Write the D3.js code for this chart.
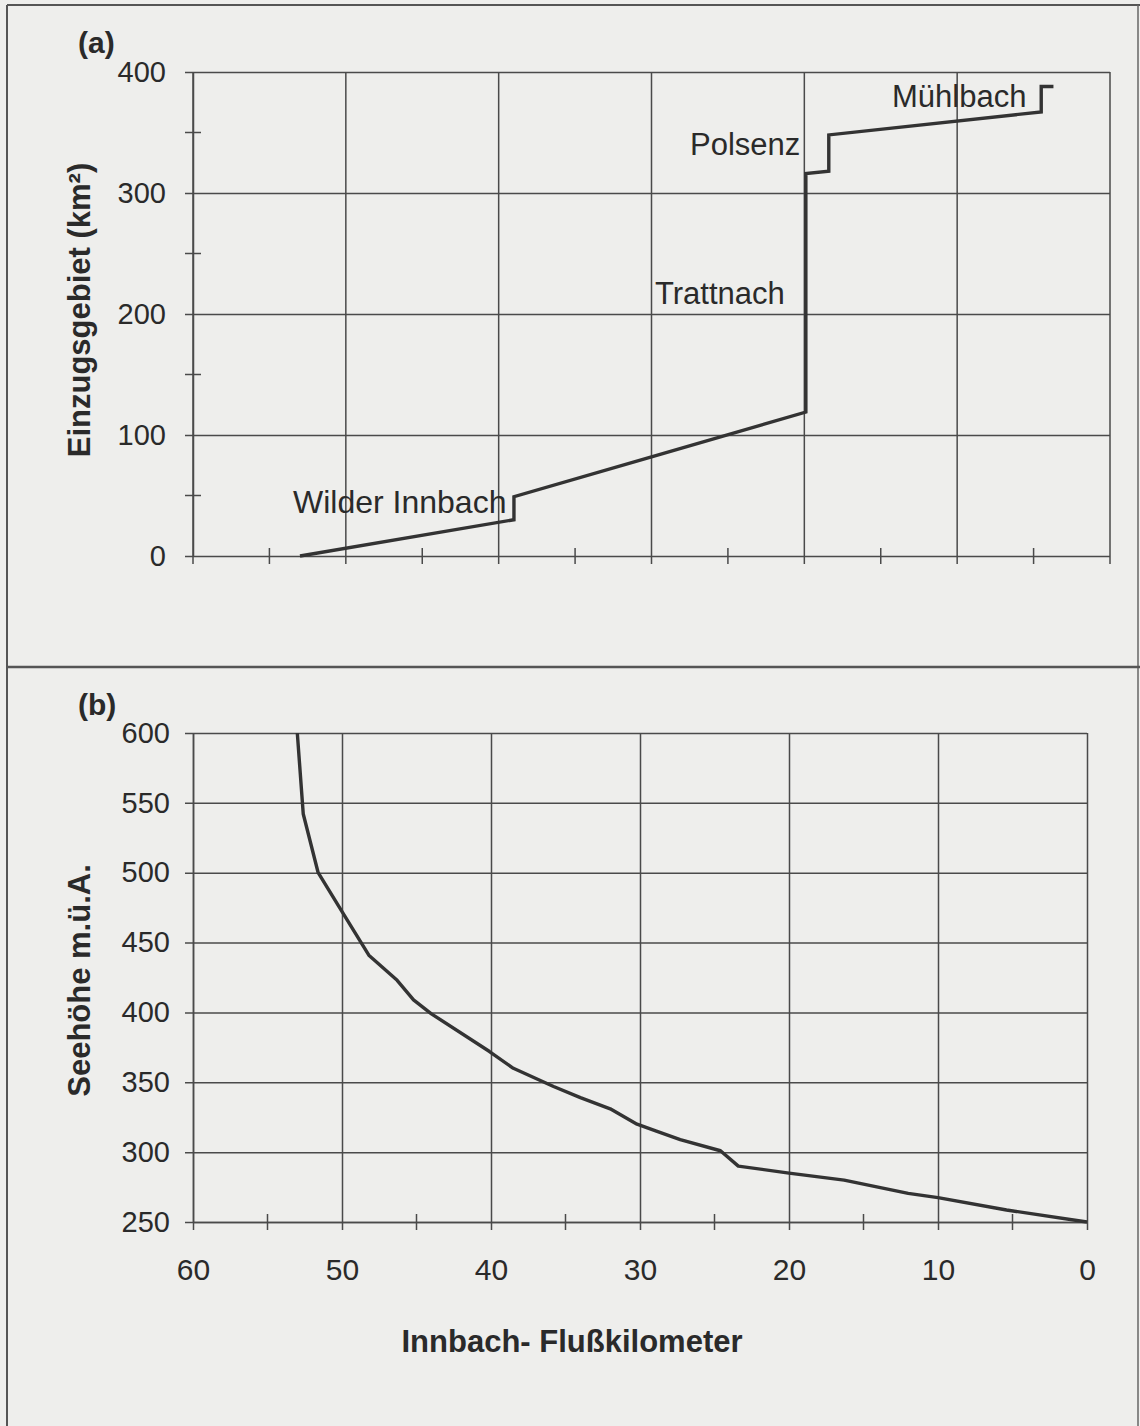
<!DOCTYPE html>
<html>
<head>
<meta charset="utf-8">
<script src="https://cdn.jsdelivr.net/npm/d3@7"></script>
<style>
  html, body { margin: 0; padding: 0; background: #eeeeec; }
  svg { display: block; }
  text { font-family: "Liberation Sans", Arial, sans-serif; fill: #2a2a2a; }
</style>
</head>
<body>
<script>
// Innbach: catchment area (a) and longitudinal profile (b) along the river kilometre

// (a) catchment area [river km, km²], with the tributary confluences as steps
const areaKm   = [53.0, 39.0, 39.0, 30.0, 19.9, 19.9, 18.4, 18.4, 4.5, 4.5, 3.7];
const areaVal  = [0,    30,   49,   82,   119,  316,  318,  348,  367, 388, 388];
const tributaries = ["Wilder Innbach", "Trattnach", "Polsenz", "Mühlbach"];

// (b) elevation [river km, m a.s.l.]
const elevKm  = [53.0, 52.6, 51.6, 50.1, 48.2, 46.3, 45.2, 44.0, 40.1, 38.5, 35.8, 34.0, 32.0, 30.2, 28.9, 27.3, 24.6, 23.4, 20.0, 16.3, 12.0, 10.0, 5.4, 0.0];
const elevVal = [600,  542,  500,  474,  441,  423,  409,  399,  372,  360,  347,  339,  331,  320,  315,  309,  301,  290,  285,  280,  270.5, 267.4, 258.6, 250];

// tick values
const kmMajor   = [60, 50, 40, 30, 20, 10, 0];
const kmMinor   = [55, 45, 35, 25, 15, 5];
const areaMajor = [0, 100, 200, 300, 400];
const areaMinor = [50, 150, 250, 350];
const elevMajor = [250, 300, 350, 400, 450, 500, 550, 600];

const W = 1140, H = 1426;
const ink = "#2f2f2f", grid = "#4a4a4a";
const tickFont = '"Liberation Sans", Arial, sans-serif';

const svg = d3.select("body").append("svg").attr("width", W).attr("height", H);

// page frame and panel separator
svg.append("line").attr("x1", 7).attr("x2", W).attr("y1", 5).attr("y2", 5)
  .attr("stroke", "#555").attr("stroke-width", 2);
svg.append("line").attr("x1", 7).attr("x2", 7).attr("y1", 5).attr("y2", H)
  .attr("stroke", "#555").attr("stroke-width", 2);
svg.append("line").attr("x1", 1138).attr("x2", 1138).attr("y1", 5).attr("y2", H)
  .attr("stroke", "#666").attr("stroke-width", 1.5);
svg.append("line").attr("x1", 7).attr("x2", W).attr("y1", 667).attr("y2", 667)
  .attr("stroke", "#555").attr("stroke-width", 2.5);

// ---------- panel (a) ----------
const xa = d3.scaleLinear().domain([60, 0]).range([193, 1110]);
const ya = d3.scaleLinear().domain([0, 400]).range([556, 72]);

const ga = svg.append("g");

// vertical grid lines at the major km positions
ga.append("g").selectAll("line").data(kmMajor).join("line")
  .attr("x1", d => xa(d)).attr("x2", d => xa(d))
  .attr("y1", ya(400)).attr("y2", ya(0) + 8)
  .attr("stroke", grid).attr("stroke-width", 1.5);
// minor km ticks crossing the base line
ga.append("g").selectAll("line").data(kmMinor).join("line")
  .attr("x1", d => xa(d)).attr("x2", d => xa(d))
  .attr("y1", ya(0) - 8).attr("y2", ya(0) + 8)
  .attr("stroke", grid).attr("stroke-width", 1.5);

// y axis with full-width grid lines
const axA = ga.append("g").attr("transform", `translate(${xa(60)},0)`)
  .call(d3.axisLeft(ya).tickValues(areaMajor).tickSize(-(xa(0) - xa(60))).tickSizeOuter(0).tickPadding(27));
axA.select(".domain").attr("stroke", grid).attr("stroke-width", 1.5);
axA.selectAll(".tick line").attr("x1", -8).attr("stroke", grid).attr("stroke-width", 1.5);
axA.selectAll(".tick text").attr("font-size", 29).attr("fill", ink).style("font-family", tickFont);
// minor area ticks
ga.append("g").selectAll("line").data(areaMinor).join("line")
  .attr("x1", xa(60) - 8).attr("x2", xa(60) + 8)
  .attr("y1", d => ya(d)).attr("y2", d => ya(d))
  .attr("stroke", grid).attr("stroke-width", 1.5);

// catchment line
const areaPts = areaKm.map((k, i) => [k, areaVal[i]]);
ga.append("path").datum(areaPts)
  .attr("fill", "none").attr("stroke", "#333").attr("stroke-width", 3.4)
  .attr("stroke-linejoin", "miter")
  .attr("d", d3.line().x(d => xa(d[0])).y(d => ya(d[1])));

// tributary labels
const tribPos = [
  { name: tributaries[0], x: 293, y: 513, size: 32 },
  { name: tributaries[1], x: 655, y: 304, size: 31 },
  { name: tributaries[2], x: 690, y: 155, size: 31 },
  { name: tributaries[3], x: 892, y: 107, size: 31 }
];
ga.append("g").selectAll("text").data(tribPos).join("text")
  .attr("x", d => d.x).attr("y", d => d.y)
  .attr("font-size", d => d.size).attr("fill", ink)
  .text(d => d.name);

svg.append("text").attr("x", 78).attr("y", 53)
  .attr("font-size", 30).attr("font-weight", "bold").attr("fill", ink).text("(a)");

svg.append("text")
  .attr("transform", `translate(90,${(ya(0) + ya(400)) / 2 - 4}) rotate(-90)`)
  .attr("text-anchor", "middle").attr("font-size", 31).attr("font-weight", "bold").attr("fill", ink)
  .text("Einzugsgebiet (km²)");

// ---------- panel (b) ----------
const xb = d3.scaleLinear().domain([60, 0]).range([193, 1087]);
const yb = d3.scaleLinear().domain([250, 600]).range([1222, 733]);

const gb = svg.append("g");

// x axis with full-height grid lines
const axBx = gb.append("g").attr("transform", `translate(0,${yb(250)})`)
  .call(d3.axisBottom(xb).tickValues(kmMajor).tickSize(-(yb(250) - yb(600))).tickSizeOuter(0).tickPadding(37));
axBx.select(".domain").attr("stroke", grid).attr("stroke-width", 1.5);
axBx.selectAll(".tick line").attr("y1", 8).attr("stroke", grid).attr("stroke-width", 1.5);
axBx.selectAll(".tick text").attr("font-size", 30).attr("fill", ink).style("font-family", tickFont);
gb.append("g").selectAll("line").data(kmMinor).join("line")
  .attr("x1", d => xb(d)).attr("x2", d => xb(d))
  .attr("y1", yb(250) - 8).attr("y2", yb(250) + 8)
  .attr("stroke", grid).attr("stroke-width", 1.5);

// y axis with full-width grid lines
const axBy = gb.append("g").attr("transform", `translate(${xb(60)},0)`)
  .call(d3.axisLeft(yb).tickValues(elevMajor).tickSize(-(xb(0) - xb(60))).tickSizeOuter(0).tickPadding(23));
axBy.select(".domain").attr("stroke", grid).attr("stroke-width", 1.5);
axBy.selectAll(".tick line").attr("x1", -8).attr("stroke", grid).attr("stroke-width", 1.5);
axBy.selectAll(".tick text").attr("font-size", 29).attr("fill", ink).style("font-family", tickFont);

// elevation profile
const elevPts = elevKm.map((k, i) => [k, elevVal[i]]);
gb.append("path").datum(elevPts)
  .attr("fill", "none").attr("stroke", "#333").attr("stroke-width", 3.4)
  .attr("stroke-linejoin", "round")
  .attr("d", d3.line().x(d => xb(d[0])).y(d => yb(d[1])));

svg.append("text").attr("x", 78).attr("y", 715)
  .attr("font-size", 30).attr("font-weight", "bold").attr("fill", ink).text("(b)");

svg.append("text")
  .attr("transform", `translate(90,${(yb(250) + yb(600)) / 2 + 3}) rotate(-90)`)
  .attr("text-anchor", "middle").attr("font-size", 31).attr("font-weight", "bold").attr("fill", ink)
  .text("Seehöhe m.ü.A.");

svg.append("text")
  .attr("x", (xb(60) + xb(0)) / 2 - 68).attr("y", 1352)
  .attr("text-anchor", "middle").attr("font-size", 31).attr("font-weight", "bold").attr("fill", ink)
  .text("Innbach- Flußkilometer");
</script>
</body>
</html>
